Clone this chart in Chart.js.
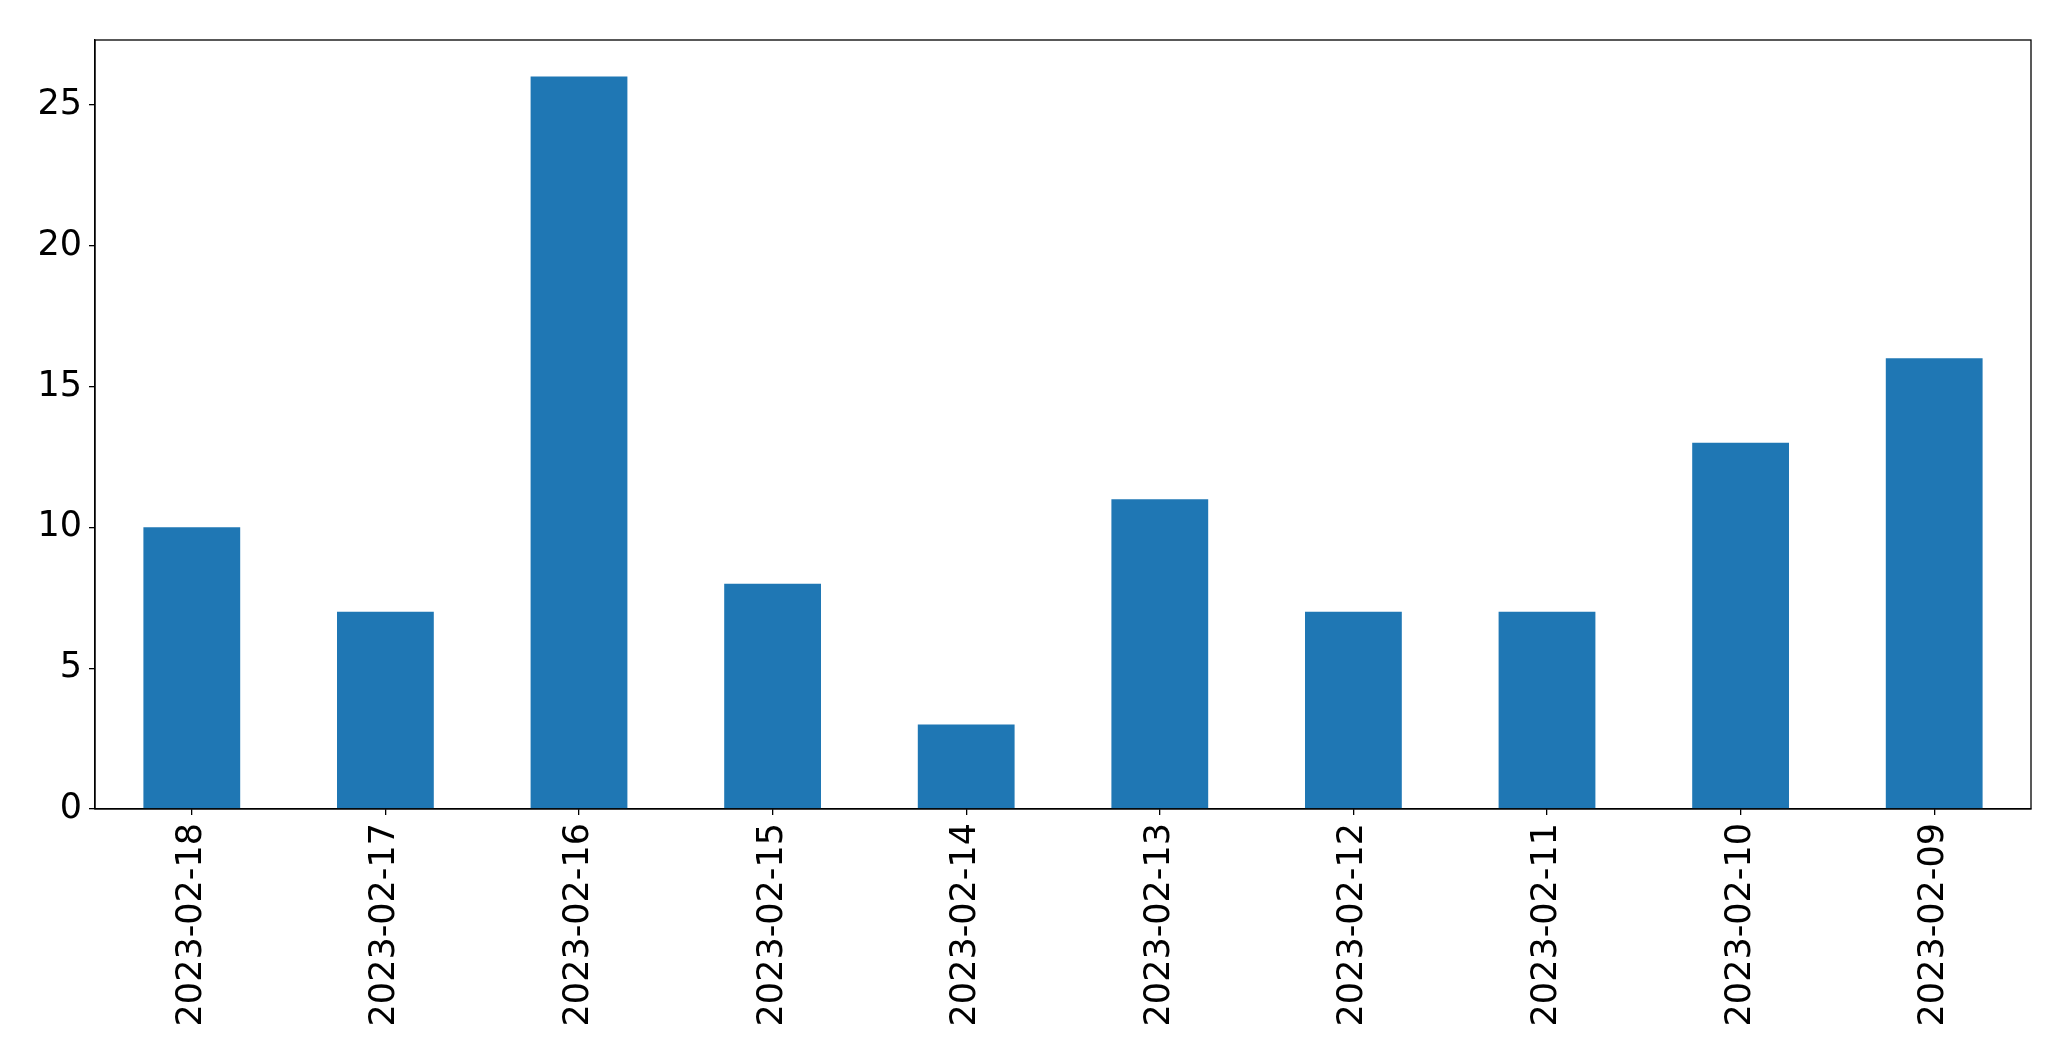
<!DOCTYPE html>
<html>
<head>
<meta charset="utf-8">
<script src="https://cdn.jsdelivr.net/npm/chart.js@4/dist/chart.umd.min.js"></script>
<style>
html,body{margin:0;padding:0;background:#fff;}
canvas{display:block;}
</style>
</head>
<body>
<canvas id="c" width="2071" height="1061"></canvas>
<script>
const categories = ["2023-02-18","2023-02-17","2023-02-16","2023-02-15","2023-02-14","2023-02-13","2023-02-12","2023-02-11","2023-02-10","2023-02-09"];
const values = [10, 7, 26, 8, 3, 11, 7, 7, 13, 16];
const yTicks = [0, 5, 10, 15, 20, 25];

const frame = {
  id: 'frame',
  afterDraw(chart) {
    const a = chart.chartArea, ctx = chart.ctx;
    ctx.save();
    ctx.strokeStyle = '#000';
    ctx.lineWidth = 1.3;
    ctx.strokeRect(a.left, a.top, a.right - a.left, a.bottom - a.top);
    ctx.restore();
  }
};

const font = { family: 'DejaVu Sans', size: 35 };

new Chart(document.getElementById('c'), {
  type: 'bar',
  data: {
    labels: categories,
    datasets: [{
      data: values,
      backgroundColor: '#1f77b4',
      borderWidth: 0,
      categoryPercentage: 1.0,
      barPercentage: 0.5
    }]
  },
  options: {
    responsive: false,
    animation: false,
    devicePixelRatio: 1,
    layout: { padding: { left: 0, top: 40, right: 40, bottom: 0 } },
    plugins: { legend: { display: false }, tooltip: { enabled: false } },
    scales: {
      x: {
        grid: { offset: false, drawOnChartArea: false, drawTicks: true, tickLength: 6, color: '#000', lineWidth: 1.3 },
        border: { display: true, color: '#000', width: 1.3 },
        ticks: { color: '#000', font: font, minRotation: 90, maxRotation: 90, padding: 8, autoSkip: false },
        afterFit(scale) { scale.height = 252; }
      },
      y: {
        min: 0,
        max: 27.3,
        grid: { drawOnChartArea: false, drawTicks: true, tickLength: 6, color: '#000', lineWidth: 1.3 },
        border: { display: true, color: '#000', width: 1.3 },
        ticks: { color: '#000', font: font, stepSize: 5, padding: 7 },
        afterBuildTicks(scale) { scale.ticks = yTicks.map(v => ({ value: v })); },
        afterFit(scale) { scale.width = 95; }
      }
    }
  },
  plugins: [frame]
});
</script>
</body>
</html>
